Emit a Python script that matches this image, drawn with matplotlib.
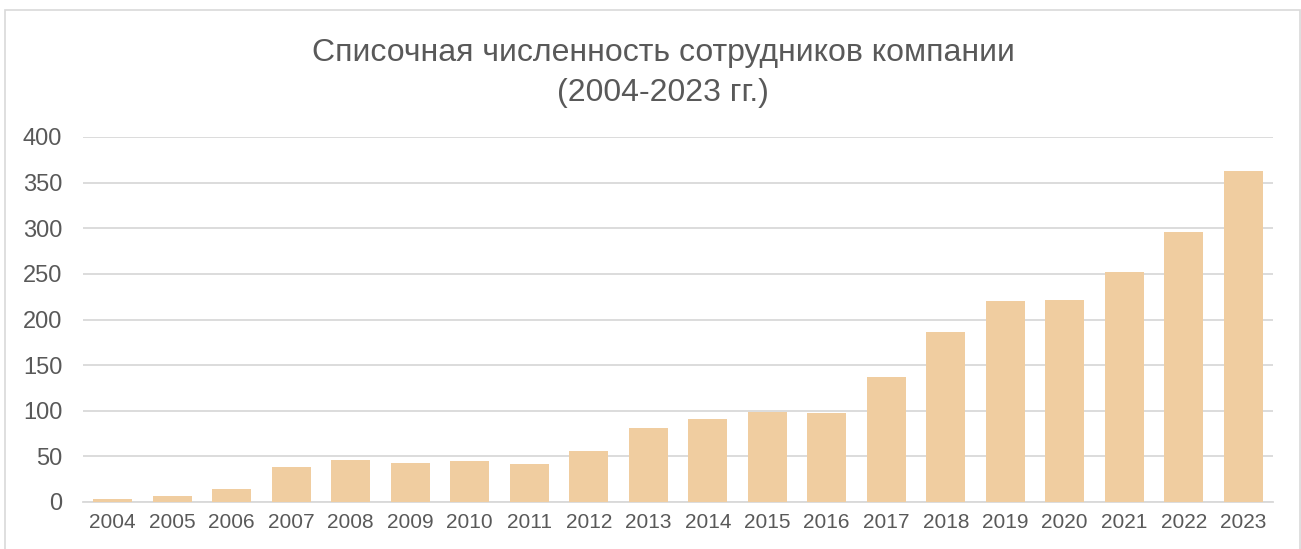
import matplotlib.pyplot as plt
from matplotlib.patches import Rectangle

plt.rcParams['font.family'] = ['Liberation Sans', 'DejaVu Sans']

years = [str(y) for y in range(2004, 2024)]
staff = [3, 7, 14, 38, 46, 43, 45, 42, 56, 81, 91, 99, 98, 137, 186, 220, 221, 252, 296, 363]

TEXT = '#595959'
GRID = '#D9D9D9'
BAR = '#F0CDA0'

fig = plt.figure(figsize=(13.01, 5.49), dpi=100)
fig.patches.append(Rectangle((5 / 1301, -0.01), 1295 / 1301, 1 - 10 / 549 + 0.01,
                             transform=fig.transFigure, fill=False,
                             edgecolor=GRID, linewidth=1.2))

ax = fig.add_axes([83 / 1301, 47 / 549, 1190 / 1301, 365 / 549])
ax.bar(years, staff, width=0.65, color=BAR, zorder=3)

ax.set_ylim(0, 400)
ax.set_xlim(-0.5, len(years) - 0.5)
ax.set_yticks(range(0, 401, 50))
ax.grid(axis='y', color=GRID, linewidth=1.3, zorder=0)
for s in ['top', 'right', 'left']:
    ax.spines[s].set_visible(False)
ax.spines['bottom'].set_color(GRID)
ax.spines['bottom'].set_linewidth(1.3)
ax.tick_params(axis='both', length=0, colors=TEXT)
ax.tick_params(axis='y', labelsize=17, pad=15)
ax.tick_params(axis='x', labelsize=15, pad=8)

# title sits a bit right of the figure centre in the original
tx = 663 / 1301
fig.text(tx, 1 - 53 / 549, 'Списочная численность сотрудников компании',
         ha='center', va='center', fontsize=23, color=TEXT)
fig.text(tx, 1 - 93 / 549, '(2004-2023 гг.)',
         ha='center', va='center', fontsize=23, color=TEXT)

fig.savefig('out.png', dpi=100)
